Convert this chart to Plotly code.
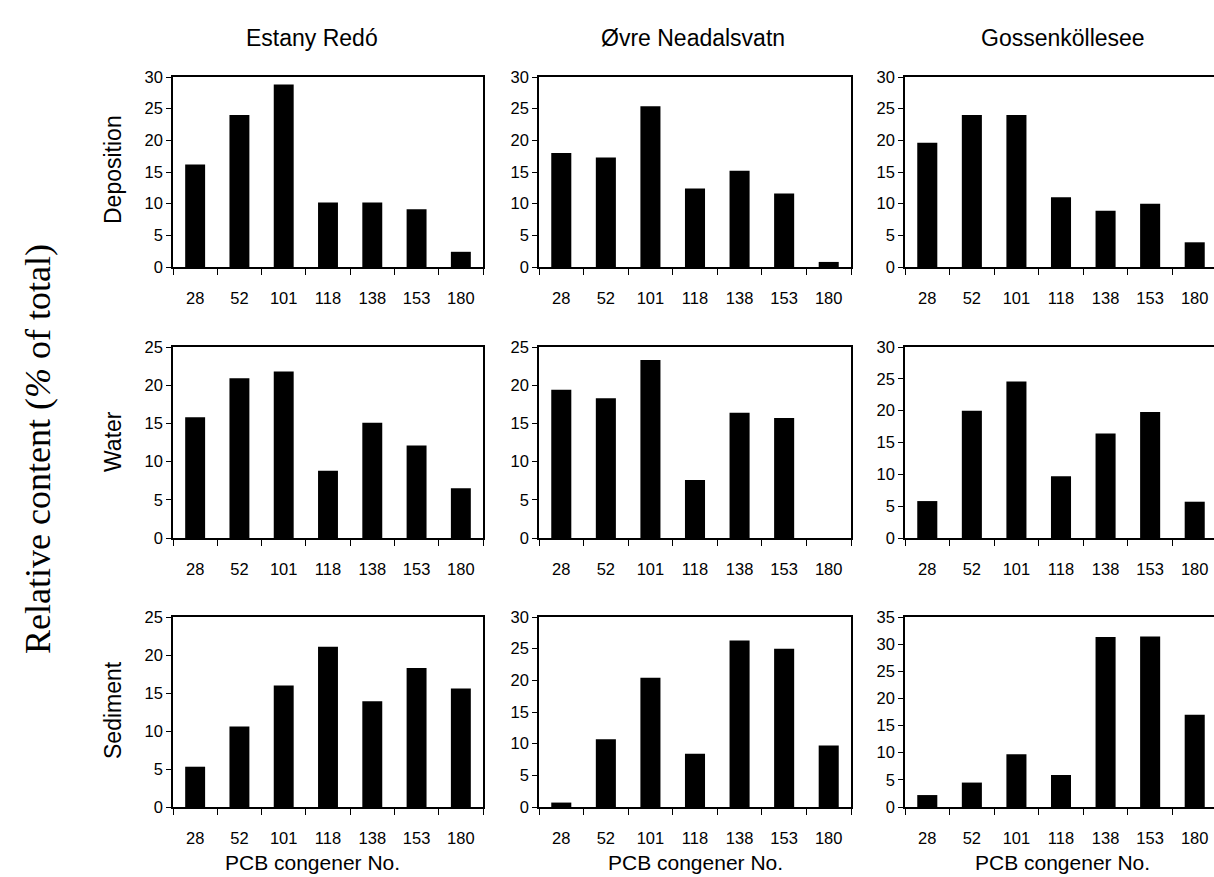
import plotly.graph_objects as go

congeners = ["28", "52", "101", "118", "138", "153", "180"]
lakes = ["Estany Redó", "Øvre Neadalsvatn", "Gossenköllesee"]
compartments = ["Deposition", "Water", "Sediment"]

deposition_redo = [16.2, 24.0, 28.8, 10.2, 10.2, 9.1, 2.4]
deposition_ovre = [18.0, 17.3, 25.4, 12.4, 15.2, 11.6, 0.8]
deposition_goss = [19.6, 24.0, 24.0, 11.0, 8.9, 10.0, 3.9]

water_redo = [15.8, 20.9, 21.8, 8.8, 15.1, 12.1, 6.5]
water_ovre = [19.4, 18.3, 23.3, 7.6, 16.4, 15.7, 0.0]
water_goss = [5.8, 20.0, 24.6, 9.7, 16.4, 19.8, 5.7]

sediment_redo = [5.3, 10.6, 16.0, 21.1, 13.9, 18.3, 15.6]
sediment_ovre = [0.7, 10.7, 20.4, 8.4, 26.3, 25.0, 9.7]
sediment_goss = [2.2, 4.5, 9.7, 5.9, 31.3, 31.4, 17.0]

y_max = [[30, 30, 30], [25, 25, 30], [25, 30, 35]]

data = [
    [deposition_redo, deposition_ovre, deposition_goss],
    [water_redo, water_ovre, water_goss],
    [sediment_redo, sediment_ovre, sediment_goss],
]

W, H = 1214, 877
col_px = [(173, 483), (539, 851), (905, 1214)]
row_px = [(77, 267), (347, 538), (617, 807)]
# the last column runs past the right edge of the page (its frame ends near 1217 px)
last_col_full_right = 1217

fig = go.Figure()
font_family = "Liberation Sans, Arial, sans-serif"
n = len(congeners)

for r in range(3):
    for c in range(3):
        idx = r * 3 + c + 1
        xa = "x" if idx == 1 else f"x{idx}"
        ya = "y" if idx == 1 else f"y{idx}"
        fig.add_trace(go.Bar(
            x=congeners, y=data[r][c], xaxis=xa, yaxis=ya,
            marker=dict(color="black", line=dict(width=0)),
            width=0.45, showlegend=False, hoverinfo="x+y",
        ))
        x0, x1 = col_px[c]
        y0, y1 = row_px[r]
        xkey = "xaxis" if idx == 1 else f"xaxis{idx}"
        ykey = "yaxis" if idx == 1 else f"yaxis{idx}"
        if c == 2:
            unit = (last_col_full_right - x0) / n
            xrange = [-0.5, -0.5 + (x1 - x0) / unit]
        else:
            xrange = [-0.5, n - 0.5]
        fig.layout[xkey] = dict(
            domain=[x0 / W, x1 / W], anchor=ya, type="category", automargin=False,
            range=xrange,
            showline=True, linecolor="black", linewidth=1.5, mirror=True,
            ticks="outside", tickson="boundaries", ticklen=6, tickcolor="black",
            ticklabelstandoff=15,
            tickfont=dict(size=16.5, color="black", family=font_family),
            showgrid=False, zeroline=False, fixedrange=True,
        )
        fig.layout[ykey] = dict(
            domain=[1 - y1 / H, 1 - y0 / H], anchor=xa, automargin=False,
            range=[0, y_max[r][c]], dtick=5,
            showline=True, linecolor="black", linewidth=1.5, mirror=(c != 2),
            ticks="outside", ticklen=5, tickcolor="black",
            tickfont=dict(size=16.5, color="black", family=font_family),
            showgrid=False, zeroline=False, fixedrange=True,
        )

annotations = []
title_x = [312, 693, 1063]
for c, name in enumerate(lakes):
    annotations.append(dict(text=name, x=title_x[c] / W, y=1 - 38 / H, xref="paper", yref="paper",
                            showarrow=False, font=dict(size=23, color="black", family=font_family),
                            xanchor="center", yanchor="middle"))
row_label_y = [170, 442, 710]
for r, name in enumerate(compartments):
    annotations.append(dict(text=name, x=113 / W, y=1 - row_label_y[r] / H, xref="paper", yref="paper",
                            showarrow=False, textangle=-90,
                            font=dict(size=23, color="black", family=font_family),
                            xanchor="center", yanchor="middle"))
label_x = [312, 695, 1062]
for c in range(3):
    annotations.append(dict(text="PCB congener No.", x=label_x[c] / W, y=1 - 862 / H,
                            xref="paper", yref="paper", showarrow=False,
                            font=dict(size=21, color="black", family=font_family),
                            xanchor="center", yanchor="middle"))
annotations.append(dict(text="Relative content (<i>%</i> of total)", x=38 / W, y=1 - 449 / H,
                        xref="paper", yref="paper", showarrow=False, textangle=-90,
                        font=dict(size=36, color="black", family="Liberation Serif, Times New Roman, serif"),
                        xanchor="center", yanchor="middle"))

fig.update_layout(
    width=W, height=H, margin=dict(l=0, r=0, t=0, b=0, autoexpand=False),
    paper_bgcolor="white", plot_bgcolor="white",
    annotations=annotations, bargap=0.55,
)

fig.write_html(
    "out.html",
    config={"displayModeBar": False},
    post_script="document.body.style.margin='0';document.body.style.overflow='hidden';",
)
